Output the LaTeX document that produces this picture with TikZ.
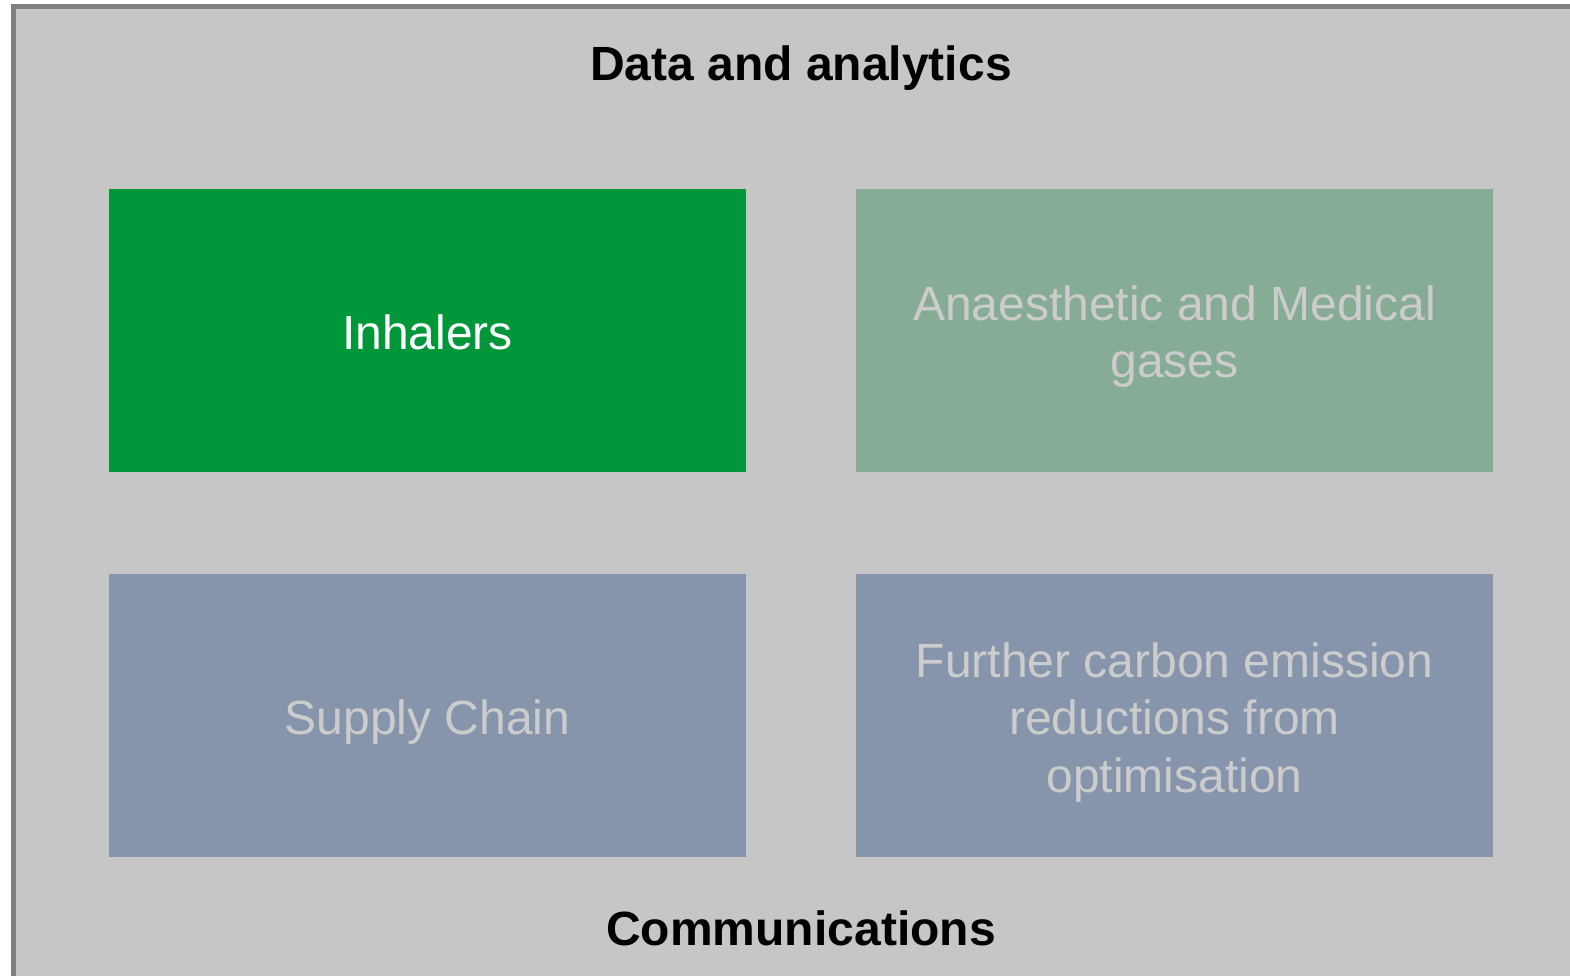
\documentclass[tikz,border=0pt]{standalone}
\usepackage{fontspec}
\setmainfont{Liberation Sans}
\definecolor{framegray}{HTML}{808080}
\definecolor{bggray}{HTML}{C6C6C6}
\definecolor{green1}{HTML}{00963A}
\definecolor{green2}{HTML}{87AC95}
\definecolor{blue2}{HTML}{8695AB}
\definecolor{fadetext}{HTML}{CCCCCC}
\begin{document}
\begin{tikzpicture}[x=1pt,y=-1pt,
  panel/.style={minimum width=637pt,minimum height=283pt,inner sep=0pt},
  paneltext/.style={inner sep=0pt,align=center,font=\fontsize{48}{57.5}\selectfont},
  heading/.style={font=\fontsize{48}{56}\selectfont\bfseries,text=black,inner sep=0pt}]
\useasboundingbox (0,0) rectangle (1570,975);
\clip (0,0) rectangle (1570,975);
\draw[framegray,line width=5pt,fill=bggray] (13,6.5) rectangle (1590,1000);
\node[heading] (title) at (801,68) {Data and analytics};
\node[panel,fill=green1] (inh) at (427.5,330.5) {};
\node[panel,fill=green2] (gas) at (1174.5,330.5) {};
\node[panel,fill=blue2] (sup) at (427.5,715.5) {};
\node[panel,fill=blue2] (fur) at (1174.5,715.5) {};
\node[paneltext,text=white] (inht) at ([yshift=-2pt]inh.center) {Inhalers};
\node[paneltext,text=fadetext] (gast) at ([yshift=-6pt]gas.center) {Anaesthetic and Medical\\gases};
\node[paneltext,text=fadetext] (supt) at ([yshift=-7pt]sup.center) {Supply Chain};
\node[paneltext,text=fadetext] (furt) at ([yshift=-7pt]fur.center) {Further carbon emission\\reductions from\\optimisation};
\node[heading] (comm) at (801,928) {Communications};
\end{tikzpicture}
\end{document}
